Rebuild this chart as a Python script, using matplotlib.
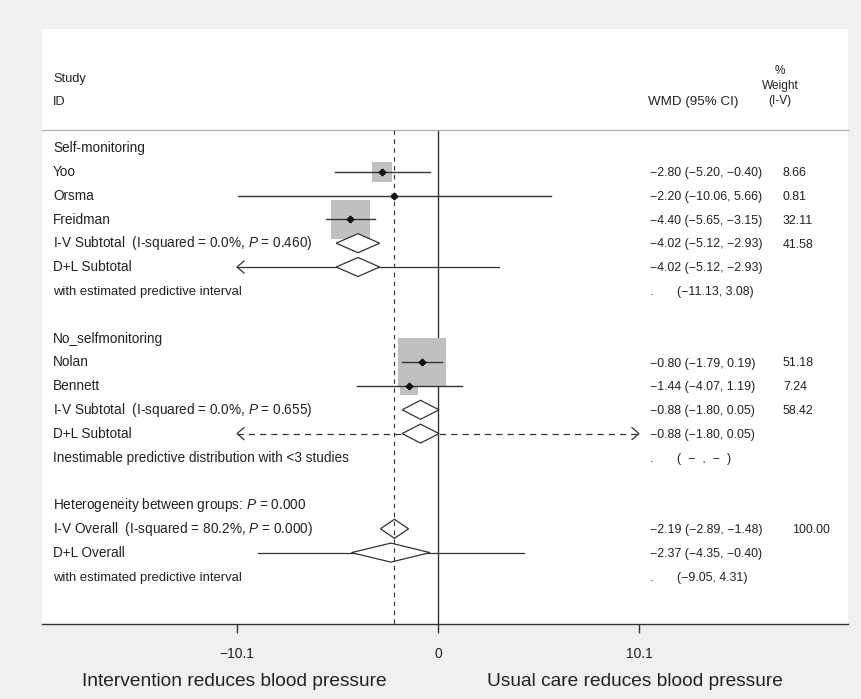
import numpy as np
import matplotlib
matplotlib.use("Agg")
import matplotlib.pyplot as plt
from matplotlib.patches import Rectangle, Polygon

plt.rcParams['font.family'] = ['Liberation Sans', 'DejaVu Sans']
plt.rcParams['mathtext.fontset'] = 'custom'
plt.rcParams['mathtext.rm'] = 'Liberation Sans'
plt.rcParams['mathtext.it'] = 'Liberation Sans:italic'

nan = np.nan
# ---------------- data ----------------
row_labels = [
    "Self-monitoring", "Yoo", "Orsma", "Freidman",
    "I-V Subtotal  (I-squared = 0.0%, $\\mathit{P}$ = 0.460)",
    "D+L Subtotal", "with estimated predictive interval", "",
    "No_selfmonitoring", "Nolan", "Bennett",
    "I-V Subtotal  (I-squared = 0.0%, $\\mathit{P}$ = 0.655)",
    "D+L Subtotal", "Inestimable predictive distribution with <3 studies", "",
    "Heterogeneity between groups: $\\mathit{P}$ = 0.000",
    "I-V Overall  (I-squared = 80.2%, $\\mathit{P}$ = 0.000)",
    "D+L Overall", "with estimated predictive interval",
]
row_type = ["group", "study", "study", "study", "pooled", "pooled_pi", "pi",
            "blank", "group", "study", "study", "pooled", "pooled_nopi", "nopi",
            "blank", "group", "pooled", "pooled_pi", "pi"]
row_est = [nan, -2.80, -2.20, -4.40, -4.02, -4.02, nan, nan, nan, -0.80, -1.44,
           -0.88, -0.88, nan, nan, nan, -2.19, -2.37, nan]
row_lo = [nan, -5.20, -10.06, -5.65, -5.12, -5.12, nan, nan, nan, -1.79, -4.07,
          -1.80, -1.80, nan, nan, nan, -2.89, -4.35, nan]
row_hi = [nan, -0.40, 5.66, -3.15, -2.93, -2.93, nan, nan, nan, 0.19, 1.19,
          0.05, 0.05, nan, nan, nan, -1.48, -0.40, nan]
row_wt = [nan, 8.66, 0.81, 32.11, 41.58, nan, nan, nan, nan, 51.18, 7.24,
          58.42, nan, nan, nan, nan, 100.00, nan, nan]
# predictive intervals (on the D+L rows)
pi_lo = {5: -11.13, 17: -9.05}
pi_hi = {5: 3.08, 17: 4.31}

overall_est = -2.19
xtick_vals = [-10.1, 0, 10.1]
xtick_labels = ["\u221210.1", "0", "10.1"]
left_label = "Intervention reduces blood pressure"
right_label = "Usual care reduces blood pressure"

# ---------------- layout ----------------
W, H = 862, 699
fig = plt.figure(figsize=(W / 100, H / 100), dpi=100, facecolor="#eff0f2")
px_l, px_r, px_t, px_b = 42, 848, 29, 624
ax = fig.add_axes([px_l / W, 1 - px_b / H, (px_r - px_l) / W, (px_b - px_t) / H])
ax.set_facecolor("white")
PXU = 19.9          # pixels per x unit
X0 = 438            # pixel of zero
RPX = 23.8          # pixels per row
ax.set_xlim((px_l - X0) / PXU, (px_r - X0) / PXU)
ax.set_ylim(20.0, -5.0)

def gx(px):
    return (px - X0) / PXU

LC = "#333333"
BASE = 4.3 / RPX    # baseline offset from row centre
LFS = 9.8
NFS = 8.9
xmin, xmax = xtick_vals[0], xtick_vals[-1]
ah_dx, ah_dy = 7 / PXU, 6 / RPX

def arrow(xtip, y, direction):
    # direction -1: pointing left, +1: pointing right
    ax.plot([xtip - direction * ah_dx, xtip, xtip - direction * ah_dx],
            [y - ah_dy, y, y + ah_dy], color=LC, lw=0.9, zorder=3,
            solid_joinstyle="miter")

def minus(s):
    return s.replace("-", "\u2212")

header_y = (130 - 148) / RPX
# vertical lines
ax.plot([0, 0], [header_y, 20.0], color=LC, lw=1.0, zorder=1)
ax.plot([overall_est, overall_est], [header_y, 20.0], color=LC, lw=0.8,
        dashes=(4, 4), zorder=4)
ax.plot([gx(px_l), gx(px_r)], [header_y, header_y], color="#b4b4b4", lw=1.0,
        zorder=1, clip_on=False)

# headers
ax.text(gx(53), (78 - 148) / RPX + BASE, "Study", fontsize=9.2, color="#222")
ax.text(gx(53), (101 - 148) / RPX + BASE, "ID", fontsize=9.2, color="#222")
ax.text(gx(648), (101 - 148) / RPX + BASE, "WMD (95% CI)", fontsize=9.6, color="#222")
for txt, py in [("%", 70), ("Weight", 85), ("(I-V)", 100)]:
    ax.text(gx(780), (py - 148) / RPX + BASE, txt, fontsize=8.6, ha="center",
            color="#222")

for i, lab in enumerate(row_labels):
    y = i
    t = row_type[i]
    if lab:
        ax.text(gx(53), y + BASE, lab, fontsize=LFS if t != "pi" else 9.4,
                color="#222")
    e, lo, hi, w = row_est[i], row_lo[i], row_hi[i], row_wt[i]
    if t == "study":
        s = 6.75 * np.sqrt(w)
        ax.add_patch(Rectangle((e - s / 2 / PXU, y - s / 2 / RPX), s / PXU, s / RPX,
                               facecolor="#c0c0c0", edgecolor="none", zorder=2))
        l, h = max(lo, xmin), min(hi, xmax)
        ax.plot([l, h], [y, y], color=LC, lw=1.0, zorder=3)
        if lo < xmin:
            arrow(xmin, y, -1)
        if hi > xmax:
            arrow(xmax, y, 1)
        ax.plot([e], [y], marker="D", ms=3.4, color="#111", zorder=5)
    if t.startswith("pooled"):
        if t == "pooled_pi":
            pl, ph = pi_lo[i], pi_hi[i]
            ax.plot([max(pl, xmin), min(ph, xmax)], [y, y], color=LC, lw=0.9, zorder=2)
            if pl < xmin:
                arrow(xmin, y, -1)
            if ph > xmax:
                arrow(xmax, y, 1)
        if t == "pooled_nopi":
            ax.plot([xmin, xmax], [y, y], color=LC, lw=0.9, dashes=(5, 4), zorder=2)
            arrow(xmin, y, -1)
            arrow(xmax, y, 1)
        dh = 9.5 / RPX
        ax.add_patch(Polygon([[lo, y], [e, y - dh], [hi, y], [e, y + dh]],
                             closed=True, facecolor="white", edgecolor=LC,
                             lw=0.9, zorder=3))
    if not np.isnan(e):
        ax.text(gx(650), y + BASE, minus(f"{e:.2f} ({lo:.2f}, {hi:.2f})"),
                fontsize=NFS, color="#222")
    if not np.isnan(w):
        wx = 792 if w >= 100 else 783
        ax.text(gx(wx), y + BASE, f"{w:.2f}", fontsize=NFS, color="#222")
    if t == "pi":
        j = i - 1
        ax.text(gx(650), y + BASE, ".", fontsize=NFS, color="#222")
        ax.text(gx(677), y + BASE, minus(f"({pi_lo[j]:.2f}, {pi_hi[j]:.2f})"),
                fontsize=NFS, color="#222")
    if t == "nopi":
        ax.text(gx(650), y + BASE, ".", fontsize=NFS, color="#222")
        ax.text(gx(677), y + BASE, "(  \u2212  ,  \u2212  )", fontsize=NFS, color="#222")

# axes styling
for sp in ["top", "left", "right"]:
    ax.spines[sp].set_visible(False)
ax.spines["bottom"].set_color(LC)
ax.spines["bottom"].set_linewidth(1.0)
ax.set_yticks([])
ax.set_xticks(xtick_vals)
ax.set_xticklabels(xtick_labels, fontsize=10, color="#222")
ax.tick_params(axis="x", length=6.5, width=1.0, color=LC, pad=10)

fig.text(234 / W, 1 - 682 / H, left_label, fontsize=13.8, ha="center",
         va="center", color="#222")
fig.text(635 / W, 1 - 682 / H, right_label, fontsize=13.8, ha="center",
         va="center", color="#222")

fig.savefig("out.png", dpi=100, facecolor=fig.get_facecolor())
